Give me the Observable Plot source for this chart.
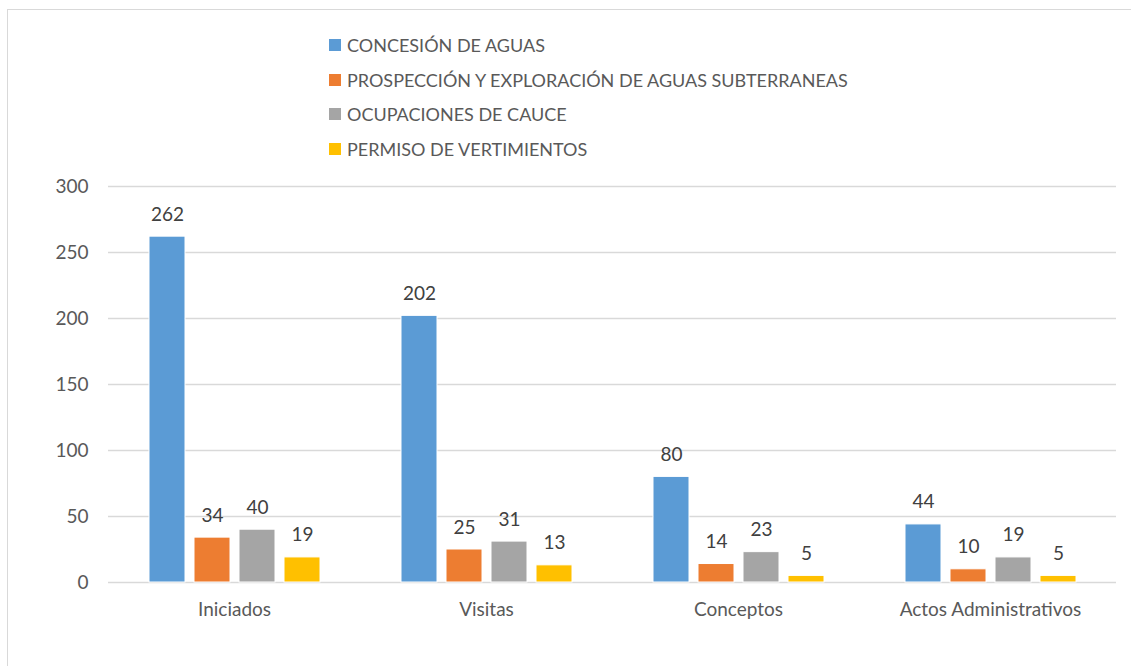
<!DOCTYPE html>
<html><head><meta charset="utf-8">
<script src="https://cdn.jsdelivr.net/npm/d3@7"></script>
<script src="https://cdn.jsdelivr.net/npm/@observablehq/plot@0.6"></script>
<style>
body{margin:0;background:#fff;font-family:Lato,"Open Sans",sans-serif;}
#wrap{position:relative;width:1131px;height:666px;overflow:hidden;}
#frame{position:absolute;left:7px;top:9px;width:1140px;height:680px;border:1px solid #d9d9d9;box-sizing:border-box;}
#legend{position:absolute;left:329px;top:0;}
.li{position:absolute;left:0;white-space:nowrap;display:flex;align-items:center;color:#595959;font-size:18px;}
.sw{width:12px;height:12px;margin-right:6px;display:inline-block;}
#chart{position:absolute;left:0;top:0;}
</style></head>
<body><div id="wrap"><div id="frame"></div><div id="chart"></div><div id="legend"></div></div>
<script>
const categories = ["Iniciados", "Visitas", "Conceptos", "Actos Administrativos"];
const series = ["CONCESIÓN DE AGUAS", "PROSPECCIÓN Y EXPLORACIÓN DE AGUAS SUBTERRANEAS", "OCUPACIONES DE CAUCE", "PERMISO DE VERTIMIENTOS"];
const colors = ["#5B9BD5", "#ED7D31", "#A5A5A5", "#FFC000"];
const concesion = [262, 202, 80, 44];
const prospeccion = [34, 25, 14, 10];
const ocupaciones = [40, 31, 23, 19];
const vertimientos = [19, 13, 5, 5];
const yTicks = [0, 50, 100, 150, 200, 250, 300];

const valuesBySeries = [concesion, prospeccion, ocupaciones, vertimientos];
const data = [];
categories.forEach((c, i) => series.forEach((s, j) => data.push({cat: c, ser: s, val: valuesBySeries[j][i]})));

const chart = Plot.plot({
  width: 1131, height: 666,
  marginLeft: 107, marginRight: 14, marginTop: 186, marginBottom: 84,
  style: {fontFamily: "Lato, 'Open Sans', sans-serif", fontSize: "19px", color: "#595959", background: "transparent"},
  fx: {domain: categories, padding: 0, label: null},
  x: {domain: series, paddingInner: 0.2, paddingOuter: 0.85, axis: null},
  y: {domain: [0, 300], ticks: yTicks, label: null},
  color: {domain: series, range: colors},
  marks: [
    Plot.ruleY(yTicks, {stroke: "#d9d9d9", strokeWidth: 1.5}),
    Plot.barY(data, {fx: "cat", x: "ser", y: "val", fill: "ser", stroke: "white", strokeWidth: 1}),
    Plot.text(data, {fx: "cat", x: "ser", y: "val", text: d => String(d.val), lineAnchor: "bottom", dy: -16, fill: "#404040", fontSize: 19}),
    Plot.axisY({ticks: yTicks, tickSize: 0, tickPadding: 20, fontSize: 19, label: null}),
    Plot.axisFx({anchor: "bottom", tickSize: 0, tickPadding: 20, fontSize: 19, label: null})
  ]
});
document.getElementById("chart").appendChild(chart);

const leg = document.getElementById("legend");
series.forEach((s, i) => {
  const row = document.createElement("div");
  row.className = "li";
  row.style.top = (34 + i * 34.5) + "px";
  row.innerHTML = `<span class="sw" style="background:${colors[i]}"></span><span>${s}</span>`;
  leg.appendChild(row);
});
</script></body></html>
